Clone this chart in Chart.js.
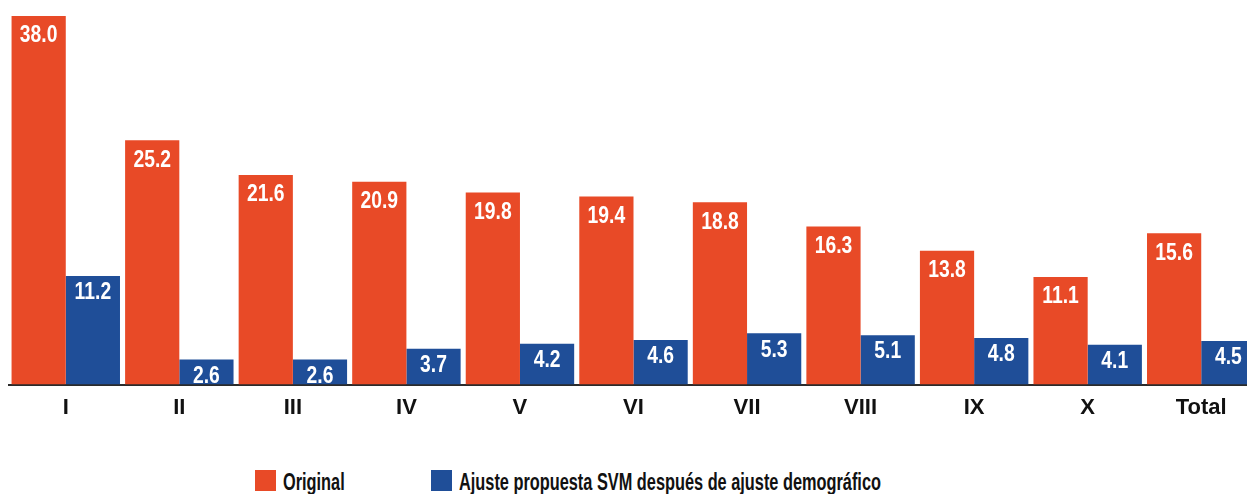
<!DOCTYPE html>
<html lang="es">
<head>
<meta charset="utf-8">
<title>Original vs ajuste SVM</title>
<script src="https://cdn.jsdelivr.net/npm/chart.js@4.4.1/dist/chart.umd.min.js"></script>
<style>
  html, body { margin: 0; padding: 0; background: #fff; overflow: hidden; }
  #wrap { position: absolute; left: 0; top: 0; width: 1258px; height: 431px; }
  #legend { position: absolute; left: 0; top: 470px; width: 1247px; height: 24px;
    font-family: 'Liberation Sans', Arial, sans-serif; font-weight: bold; font-size: 23px; color: #111; }
  .item { position: absolute; top: 0; display: flex; align-items: center; white-space: nowrap; }
  .box { width: 21px; height: 21px; margin-right: 7px; flex: none; }
  .txt { display: inline-block; transform: scaleX(0.71); transform-origin: left center; line-height: 21px; position: relative; top: 2px; }
</style>
</head>
<body>
<div id="wrap"><canvas id="chart"></canvas></div>
<div id="legend"></div>
<script>
const categories = ['I', 'II', 'III', 'IV', 'V', 'VI', 'VII', 'VIII', 'IX', 'X', 'Total'];
const original = [38.0, 25.2, 21.6, 20.9, 19.8, 19.4, 18.8, 16.3, 13.8, 11.1, 15.6];
const ajuste = [11.2, 2.6, 2.6, 3.7, 4.2, 4.6, 5.3, 5.1, 4.8, 4.1, 4.5];
const seriesNames = ['Original', 'Ajuste propuesta SVM después de ajuste demográfico'];
const seriesColors = ['#E84A27', '#1F4E98'];

const FONT = "'Liberation Sans', Arial, sans-serif";

// white value labels inside the top of each bar (squeezed to look condensed)
const barLabels = {
    id: 'barLabels',
    afterDatasetsDraw(chart) {
        const ctx = chart.ctx;
        const offsets = [20, 17];
        ctx.save();
        ctx.fillStyle = '#fff';
        ctx.font = 'bold 23px ' + FONT;
        ctx.textAlign = 'center';
        ctx.textBaseline = 'middle';
        chart.data.datasets.forEach((ds, i) => {
            chart.getDatasetMeta(i).data.forEach((bar, j) => {
                ctx.save();
                ctx.translate(bar.x, bar.y + offsets[i]);
                ctx.scale(0.84, 1);
                ctx.fillText(ds.data[j].toFixed(1), 0, 0);
                ctx.restore();
            });
        });
        ctx.restore();
    }
};

const chart = new Chart(document.getElementById('chart'), {
    type: 'bar',
    data: {
        labels: categories,
        datasets: [
            { label: seriesNames[0], data: original, backgroundColor: seriesColors[0] },
            { label: seriesNames[1], data: ajuste, backgroundColor: seriesColors[1] }
        ]
    },
    options: {
        responsive: true,
        maintainAspectRatio: false,
        animation: false,
        layout: { padding: { left: 9, right: 0, top: 16, bottom: 0 } },
        datasets: { bar: { categoryPercentage: 0.955, barPercentage: 1.0 } },
        scales: {
            x: {
                grid: { display: false, drawTicks: false },
                border: { display: true, color: '#2b2b2b', width: 2 },
                ticks: { color: '#111', padding: 10, font: { family: FONT, weight: 'bold', size: 22 } }
            },
            y: { display: false, min: 0, max: 38 }
        },
        plugins: {
            legend: { display: false },
            tooltip: { enabled: false }
        }
    },
    plugins: [barLabels]
});

// legend built from the datasets
const legendX = [255, 431];
const legendEl = document.getElementById('legend');
chart.data.datasets.forEach((ds, i) => {
    const item = document.createElement('div');
    item.className = 'item';
    item.style.left = legendX[i] + 'px';
    item.innerHTML = '<span class="box" style="background:' + ds.backgroundColor + '"></span><span class="txt">' + ds.label + '</span>';
    legendEl.appendChild(item);
});
</script>
</body>
</html>
